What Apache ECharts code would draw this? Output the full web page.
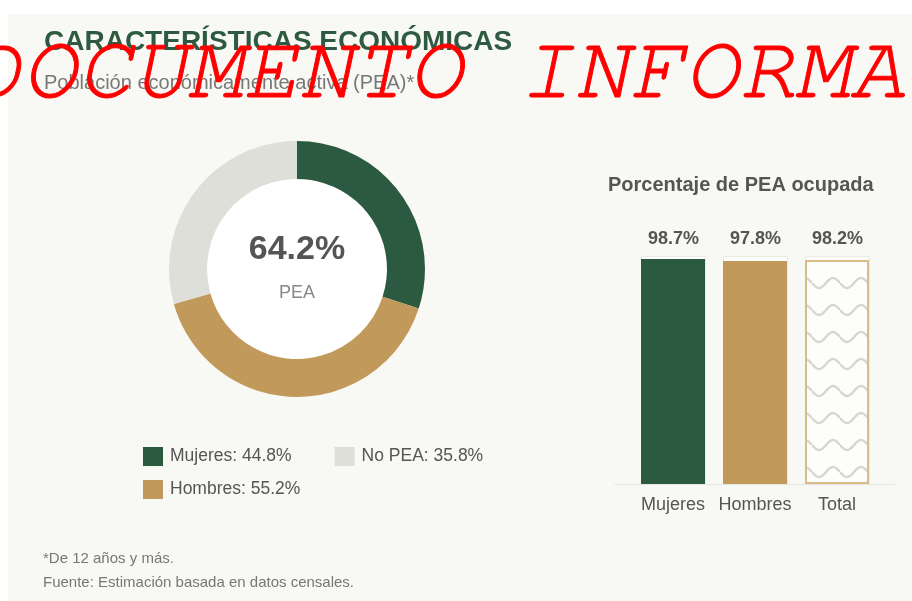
<!DOCTYPE html>
<html>
<head>
<meta charset="utf-8">
<script src="https://cdn.jsdelivr.net/npm/echarts@6/dist/echarts.min.js"></script>
<style>
html, body { margin: 0; padding: 0; background: #fff; overflow: hidden; }
#wrap { position: relative; width: 912px; height: 601px; overflow: hidden; }
#chart { width: 912px; height: 601px; }
#sello {
    position: absolute;
    left: -33px;
    top: 24px;
    font-family: FreeMono, "Liberation Mono", monospace;
    font-style: italic;
    font-size: 91px;
    line-height: 91px;
    letter-spacing: 0.6px;
    color: #ff0000;
    -webkit-text-stroke: 1px #ff0000;
    white-space: nowrap;
    pointer-events: none;
}
</style>
</head>
<body>
<div id="wrap">
    <div id="chart"></div>
    <div id="sello">DOCUMENTO INFORMATIVO</div>
</div>
<script>
// dona: PEA por sexo y no PEA
var donutNames = ['Mujeres', 'Hombres', 'No PEA'];
var donutValues = [30.0, 40.6, 29.4];
var legendPct = ['44.8%', '55.2%', '35.8%'];
var peaTotal = '64.2%';

// barras: porcentaje de PEA ocupada (sobre un fondo de 100%)
var barCats = ['Mujeres', 'Hombres', 'Total'];
var barValues = [98.7, 97.8, 98.2];
var trackValues = [100, 100, 100];

var FONT = '"Liberation Sans", Arial, sans-serif';
var verde = '#2c5a40',
    dorado = '#c19a5b',
    gris = '#dfdfd9';

// textura ondulada para la barra Total
var wave = document.createElement('canvas');
wave.width = 28;
wave.height = 27;
var wctx = wave.getContext('2d');
wctx.fillStyle = '#fdfdfb';
wctx.fillRect(0, 0, 28, 27);
wctx.strokeStyle = '#d6d6cd';
wctx.lineWidth = 2.3;
wctx.beginPath();
for (var i = 0; i <= 28; i++) {
    var yy = 13 + 5 * Math.sin(i / 28 * Math.PI * 2);
    if (i === 0) wctx.moveTo(i, yy); else wctx.lineTo(i, yy);
}
wctx.stroke();

var barStyles = [
    { color: verde },
    { color: dorado },
    { color: { image: wave, repeat: 'repeat' }, borderColor: '#d8bc8a', borderWidth: 2 }
];

function legendText(name) {
    return name + ': ' + legendPct[donutNames.indexOf(name)];
}

var legendBase = {
    icon: 'rect',
    itemWidth: 20,
    itemHeight: 19,
    padding: 0,
    selectedMode: false,
    formatter: legendText,
    textStyle: { color: '#555', fontSize: 17.5, fontFamily: FONT, padding: [0, 0, 0, 2] }
};

var myChart = echarts.init(document.getElementById('chart'));

var option = {
    animation: false,
    textStyle: { fontFamily: FONT },
    graphic: [
        { type: 'rect', z: -10, shape: { x: 8, y: 14, width: 904, height: 587 }, style: { fill: '#f8f8f4' } },
        { type: 'text', x: 44, y: 42, style: { text: 'CARACTERÍSTICAS ECONÓMICAS', fill: '#2e5b40', font: 'bold 28px ' + FONT, verticalAlign: 'middle' } },
        { type: 'text', x: 44, y: 83, style: { text: 'Población económicamente activa (PEA)*', fill: '#777', font: '20px ' + FONT, verticalAlign: 'middle' } },
        { type: 'text', x: 297, y: 250, z: 10, style: { text: peaTotal, fill: '#555', font: 'bold 34px ' + FONT, align: 'center', verticalAlign: 'middle' } },
        { type: 'text', x: 297, y: 293, z: 10, style: { text: 'PEA', fill: '#888', font: '18px ' + FONT, align: 'center', verticalAlign: 'middle' } },
        { type: 'text', x: 608, y: 185, style: { text: 'Porcentaje de PEA ocupada', fill: '#555', font: 'bold 20px ' + FONT, verticalAlign: 'middle' } },
        { type: 'text', x: 43, y: 559, style: { text: '*De 12 años y más.', fill: '#777', font: '15px ' + FONT, verticalAlign: 'middle' } },
        { type: 'text', x: 43, y: 583, style: { text: 'Fuente: Estimación basada en datos censales.', fill: '#777', font: '15px ' + FONT, verticalAlign: 'middle' } }
    ],
    legend: [
        Object.assign({}, legendBase, { left: 143, top: 447, itemGap: 43, data: ['Mujeres', 'No PEA'] }),
        Object.assign({}, legendBase, { left: 143, top: 480, data: ['Hombres'] })
    ],
    grid: [
        { left: 632, width: 246, top: 256, height: 228 },
        { left: 615, width: 280, top: 256, height: 228 }
    ],
    xAxis: [{
        gridIndex: 0,
        type: 'category',
        data: barCats,
        axisLine: { show: false },
        axisTick: { show: false },
        axisLabel: { interval: 0, color: '#555', fontSize: 18, margin: 12, fontFamily: FONT }
    }, {
        gridIndex: 1,
        type: 'value',
        min: 0,
        max: 1,
        axisLine: { show: true, lineStyle: { color: '#e6e6e1', width: 1 } },
        axisTick: { show: false },
        axisLabel: { show: false },
        splitLine: { show: false }
    }],
    yAxis: [
        { gridIndex: 0, type: 'value', min: 0, max: 100, show: false },
        { gridIndex: 1, type: 'value', min: 0, max: 1, show: false }
    ],
    series: [{
        name: 'fondo',
        type: 'pie',
        silent: true,
        center: [297, 269],
        radius: [0, 90],
        label: { show: false },
        labelLine: { show: false },
        data: [{ name: 'fondo', value: 1, itemStyle: { color: '#fff' } }]
    }, {
        name: 'PEA',
        type: 'pie',
        silent: true,
        center: [297, 269],
        radius: [90, 128],
        startAngle: 90,
        clockwise: true,
        label: { show: false },
        labelLine: { show: false },
        itemStyle: { borderWidth: 0 },
        data: donutNames.map(function(n, i) {
            return { name: n, value: donutValues[i], itemStyle: { color: [verde, dorado, gris][i] } };
        })
    }, {
        name: '100%',
        type: 'bar',
        xAxisIndex: 0,
        yAxisIndex: 0,
        barWidth: 65,
        silent: true,
        z: 1,
        itemStyle: { color: '#fcfcfa', borderColor: '#ebebe6', borderWidth: 1 },
        label: {
            show: true,
            position: 'top',
            distance: 8,
            color: '#555',
            fontSize: 18,
            fontWeight: 'bold',
            fontFamily: FONT,
            formatter: function(p) {
                return barValues[p.dataIndex].toFixed(1) + '%';
            }
        },
        data: trackValues
    }, {
        name: 'Ocupada',
        type: 'bar',
        xAxisIndex: 0,
        yAxisIndex: 0,
        barWidth: 64,
        barGap: '-100%',
        silent: true,
        z: 2,
        data: barValues.map(function(v, i) {
            return { value: v, itemStyle: barStyles[i] };
        })
    }]
};
myChart.setOption(option);
</script>
</body>
</html>
